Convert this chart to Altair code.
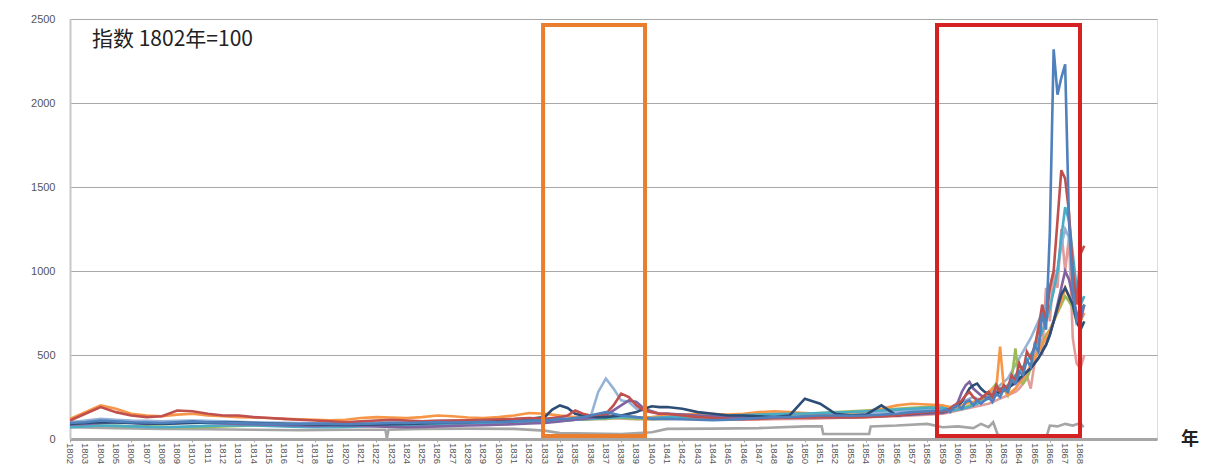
import altair as alt
import pandas as pd

# ---- x grid for the main series (years) ----
YEARS_A = list(range(1802, 1833))                       # yearly 1802-1832
YEARS_B = [1833 + 0.5 * i for i in range(16)]           # half-yearly 1833-1840.5
YEARS_C = list(range(1841, 1859))                       # yearly 1841-1858
YEARS_D = [1859 + 0.25 * i for i in range(38)]          # quarterly 1859-1868.25
YEARS = YEARS_A + YEARS_B + YEARS_C + YEARS_D

BLUE = ([95, 100, 110, 105, 100, 98, 95, 100, 105, 100, 98, 95, 92, 90, 88, 90, 92, 90, 88, 90, 92, 95, 95, 98, 100, 98, 100, 102, 100, 105, 110]
        + [110, 115, 120, 120, 125, 130, 140, 150, 160, 150, 140, 135, 130, 125, 120, 120]
        + [120, 118, 115, 112, 115, 120, 125, 130, 130, 135, 140, 140, 138, 140, 145, 150, 160, 165]
        + [170, 175, 160, 190, 200, 180, 220, 230, 200, 230, 210, 230, 250, 220, 270, 250, 300, 280, 350, 330,
           400, 380, 470, 430, 560, 520, 750, 650, 1230, 2320, 2050, 2150, 2230, 1300, 900, 700, 750, 800])
RED = ([110, 150, 190, 160, 140, 130, 135, 170, 165, 150, 140, 140, 130, 125, 120, 115, 110, 105, 100, 105, 110, 115, 110, 105, 108, 110, 112, 115, 118, 120, 125]
       + [120, 125, 130, 140, 170, 150, 140, 145, 150, 200, 270, 250, 200, 170, 160, 150]
       + [150, 140, 130, 125, 120, 118, 120, 125, 125, 128, 130, 130, 128, 130, 135, 140, 150, 160]
       + [165, 170, 180, 200, 210, 230, 260, 280, 250, 230, 240, 260, 280, 250, 320, 280, 320, 300, 380, 350,
          450, 400, 520, 480, 550, 650, 800, 700, 900, 1000, 1300, 1600, 1550, 1350, 1000, 800, 1100, 1150])
GREEN = ([80, 85, 80, 78, 75, 75, 72, 70, 70, 72, 75, 78, 80, 82, 80, 78, 75, 75, 78, 80, 82, 85, 88, 90, 92, 95, 95, 98, 100, 100, 105]
         + [105, 110, 110, 112, 115, 115, 118, 120, 120, 125, 125, 122, 120, 120, 118, 120]
         + [120, 125, 130, 135, 140, 145, 150, 150, 148, 150, 155, 160, 165, 170, 175, 180, 185, 190]
         + [190, 180, 170, 175, 180, 185, 190, 200, 210, 220, 230, 250, 270, 300, 330, 280, 300, 260, 350, 540,
            350, 330, 360, 420, 480, 520, 560, 620, 650, 700, 750, 800, 850, 820, 780, 700, 750, 800])
PURPLE = ([85, 90, 95, 100, 95, 90, 92, 95, 100, 95, 92, 90, 88, 85, 82, 80, 78, 80, 82, 78, 75, 72, 70, 72, 75, 78, 80, 82, 85, 88, 92]
          + [95, 100, 105, 110, 115, 120, 125, 130, 140, 170, 200, 230, 220, 180, 165, 150]
          + [150, 145, 140, 135, 130, 128, 125, 125, 128, 130, 130, 128, 130, 132, 135, 140, 145, 150]
          + [155, 160, 170, 190, 220, 280, 320, 340, 300, 280, 260, 250, 240, 260, 280, 300, 300, 310, 320, 330,
             350, 380, 400, 420, 450, 480, 520, 560, 620, 700, 800, 900, 1000, 950, 850, 750, 700, 800])
AQUA = ([70, 75, 80, 78, 75, 72, 70, 72, 75, 78, 80, 82, 80, 78, 75, 72, 70, 70, 72, 75, 78, 80, 82, 85, 88, 90, 92, 95, 98, 100, 102]
        + [105, 108, 110, 112, 115, 118, 120, 122, 125, 128, 130, 130, 128, 125, 125, 128]
        + [130, 132, 135, 138, 140, 142, 145, 148, 150, 152, 155, 158, 160, 165, 170, 175, 180, 185]
        + [185, 180, 175, 170, 175, 180, 185, 190, 200, 210, 220, 230, 240, 250, 260, 280, 300, 320, 350, 380,
           400, 430, 460, 500, 540, 580, 640, 700, 780, 880, 1000, 1200, 1380, 1300, 1100, 900, 800, 850])
ORANGE = ([120, 160, 200, 180, 150, 140, 135, 145, 150, 140, 135, 130, 128, 125, 120, 118, 115, 112, 115, 125, 130, 128, 125, 130, 140, 135, 128, 125, 130, 140, 155]
          + [150, 145, 140, 135, 130, 130, 128, 130, 135, 140, 140, 135, 130, 128, 130, 135]
          + [140, 145, 150, 148, 145, 150, 160, 165, 160, 155, 150, 150, 155, 165, 180, 200, 210, 205]
          + [200, 195, 190, 185, 190, 200, 210, 220, 220, 230, 240, 260, 280, 300, 300, 550, 300, 260, 280, 300,
             330, 360, 400, 440, 480, 520, 560, 600, 650, 700, 760, 820, 900, 850, 800, 750, 700, 750])
NAVY = ([90, 95, 100, 98, 95, 92, 90, 92, 95, 98, 100, 98, 95, 92, 90, 88, 86, 85, 84, 85, 86, 88, 90, 92, 95, 98, 100, 105, 110, 115, 120]
        + [130, 175, 200, 185, 150, 140, 135, 130, 130, 135, 140, 150, 160, 180, 195, 190]
        + [190, 180, 160, 150, 140, 140, 135, 130, 140, 240, 210, 150, 140, 145, 200, 140, 150, 160]
        + [165, 170, 180, 190, 200, 220, 260, 300, 320, 330, 300, 280, 270, 260, 270, 280, 290, 300, 320, 340,
           360, 380, 400, 420, 450, 480, 520, 560, 620, 700, 780, 860, 900, 850, 800, 700, 650, 700])
SALMON = ([100, 105, 110, 108, 105, 102, 100, 102, 105, 102, 100, 98, 95, 92, 90, 88, 86, 85, 84, 85, 86, 88, 90, 92, 95, 96, 98, 100, 102, 104, 106]
          + [108, 110, 112, 112, 115, 115, 118, 120, 120, 122, 122, 120, 118, 118, 118, 120]
          + [120, 120, 118, 116, 115, 115, 116, 118, 120, 120, 122, 125, 128, 130, 132, 135, 140, 145]
          + [150, 155, 160, 165, 170, 175, 180, 185, 190, 195, 200, 205, 210, 220, 230, 240, 250, 260, 270, 280,
             300, 330, 380, 300, 450, 700, 500, 900, 700, 1000, 900, 1250, 1000, 1200, 600, 450, 420, 500])
STEEL = ([100, 110, 120, 115, 110, 108, 105, 108, 110, 108, 105, 102, 100, 98, 96, 95, 94, 95, 96, 98, 100, 102, 104, 106, 108, 110, 112, 114, 116, 118, 120]
         + [118, 115, 112, 112, 115, 120, 130, 280, 360, 300, 230, 220, 180, 170, 160, 150]
         + [150, 145, 140, 135, 135, 135, 138, 140, 142, 145, 148, 150, 152, 155, 160, 165, 170, 175]
         + [180, 185, 190, 200, 210, 220, 230, 240, 250, 240, 230, 240, 260, 280, 300, 320, 340, 360, 400, 440,
            480, 520, 560, 600, 650, 700, 750, 800, 900, 1000, 1000, 1150, 1250, 1200, 1000, 850, 800, 850])

# low grey series, own x grid
GRAY_YEARS = [1802, 1805, 1808, 1811, 1814, 1817, 1820, 1822.6, 1822.7, 1822.8, 1825, 1828, 1831, 1833, 1834,
              1836, 1838, 1840, 1841, 1844, 1847, 1850, 1851.1, 1851.2, 1854.2, 1854.3, 1856, 1858, 1859, 1860,
              1861, 1861.5, 1862, 1862.3, 1862.6, 1863, 1864, 1865, 1865.8, 1866, 1866.5, 1867, 1867.5, 1868, 1868.2]
GRAY = [70, 65, 60, 58, 55, 52, 55, 55, 5, 55, 60, 62, 60, 50, 35, 32, 30, 40, 60, 62, 65, 75, 75, 30, 30,
        75, 80, 90, 70, 75, 65, 90, 70, 100, 25, 18, 15, 15, 18, 80, 75, 90, 80, 95, 70]

SERIES = ["gray", "salmon", "steel", "green", "orange", "aqua", "purple", "navy", "red", "blue"]
COLORS = ["#A5A5A5", "#E29C9A", "#95B3D7", "#9BBB59", "#F79646", "#4BACC6", "#8064A2", "#2C4D75", "#C0504D", "#4F81BD"]
VALUES = {"salmon": SALMON, "steel": STEEL, "green": GREEN, "orange": ORANGE, "aqua": AQUA,
          "purple": PURPLE, "navy": NAVY, "red": RED, "blue": BLUE}

# highlight boxes
BOX_START = [1832.9, 1858.63]
BOX_END = [1839.56, 1867.97]
BOX_TOP = [2464, 2464]
BOX_BOTTOM = [18, 18]
BOX_COLORS = ["#E97E2E", "#D42222"]

YEAR_LABELS = list(range(1802, 1869))
Y_TICKS = [0, 500, 1000, 1500, 2000, 2500]

rows = []
for x, v in zip(GRAY_YEARS, GRAY):
    rows.append({"series": "gray", "year": x, "value": v})
for name in SERIES[1:]:
    for x, v in zip(YEARS, VALUES[name]):
        rows.append({"series": name, "year": x, "value": v})
df = pd.DataFrame(rows)

boxes = pd.DataFrame({"x0": BOX_START, "x1": BOX_END, "y0": BOX_BOTTOM, "y1": BOX_TOP, "c": BOX_COLORS})
labels_df = pd.DataFrame({"year": YEAR_LABELS, "lab": [str(y) for y in YEAR_LABELS]})

W, H = 1087, 420
xscale = alt.Scale(domain=[1802, 1873], nice=False, zero=False)
yscale = alt.Scale(domain=[0, 2500], nice=False)

lines = alt.Chart(df).mark_line(strokeWidth=2.6, clip=True).encode(
    x=alt.X("year:Q", scale=xscale, title=None,
            axis=alt.Axis(values=YEAR_LABELS, labels=False, grid=False, ticks=True, tickSize=3,
                          tickColor="#A6A6A6", domainColor="#A6A6A6", domainWidth=3)),
    y=alt.Y("value:Q", scale=yscale, title=None,
            axis=alt.Axis(values=Y_TICKS, format="d", labelFontSize=11, labelColor="#555555",
                          labelFont="Liberation Sans", labelPadding=15, ticks=False,
                          grid=True, gridColor="#A8A8A8", gridWidth=1,
                          domainColor="#C8C8C8", domainWidth=2)),
    color=alt.Color("series:N", scale=alt.Scale(domain=SERIES, range=COLORS), legend=None),
    order=alt.Order("year:Q"),
)

year_labels = alt.Chart(labels_df).mark_text(
    angle=90, align="left", baseline="middle", fontSize=9.5, font="Liberation Sans", color="#555555"
).encode(x=alt.X("year:Q", scale=xscale), y=alt.value(H + 4), text="lab:N")

rects = alt.Chart(boxes).mark_rect(filled=False, strokeWidth=4).encode(
    x=alt.X("x0:Q", scale=xscale),
    x2="x1:Q",
    y=alt.Y("y0:Q", scale=yscale),
    y2="y1:Q",
    stroke=alt.Stroke("c:N", scale=None),
)

title_txt = alt.Chart(pd.DataFrame({"t": ["指数 1802年=100"]})).mark_text(
    align="left", baseline="middle", font="Noto Sans CJK SC", fontSize=21, color="#222222"
).encode(x=alt.value(22), y=alt.value(21), text="t:N")

nen_txt = alt.Chart(pd.DataFrame({"t": ["年"]})).mark_text(
    align="center", baseline="middle", font="Noto Sans CJK SC", fontSize=18, fontWeight="bold", color="#222222"
).encode(x=alt.value(1120), y=alt.value(421), text="t:N")

chart = alt.layer(lines, rects, year_labels, title_txt, nen_txt).properties(
    width=W, height=H,
    autosize=alt.AutoSizeParams(type="none"),
    padding={"left": 62, "top": 11, "right": 44, "bottom": 28},
).configure_view(stroke=None).configure(background="white")

chart.save("out.html", embed_options={"renderer": "svg", "actions": False})
